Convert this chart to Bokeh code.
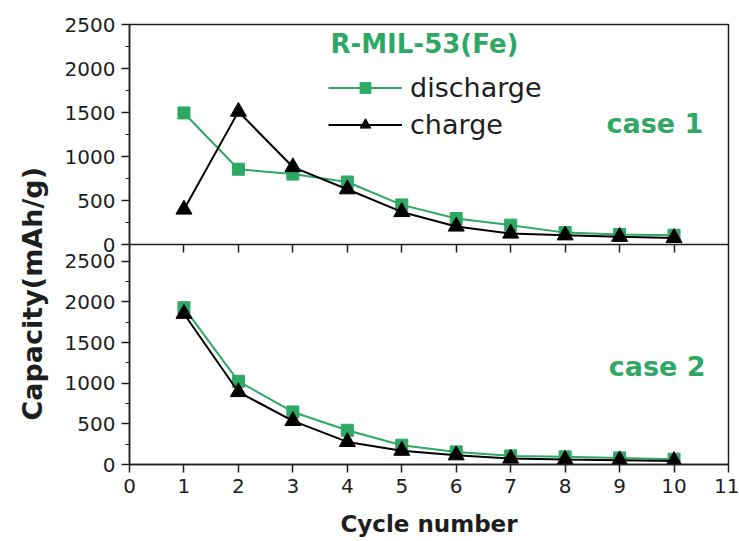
from bokeh.plotting import figure
from bokeh.models import Range1d, LinearAxis, FixedTicker, Label, Legend, LegendItem, Title
from bokeh.embed import file_html
from bokeh.resources import INLINE

# ---- data ----
cycles = [1, 2, 3, 4, 5, 6, 7, 8, 9, 10]
case1_discharge = [1495, 855, 800, 710, 450, 295, 220, 135, 115, 105]
case1_charge = [398, 1510, 880, 628, 370, 205, 125, 105, 88, 75]
case2_discharge = [1928, 1023, 646, 421, 237, 155, 106, 94, 81, 65]
case2_charge = [1854, 892, 536, 278, 170, 114, 74, 61, 53, 44]
x_ticks = [0, 1, 2, 3, 4, 5, 6, 7, 8, 9, 10, 11]
y_ticks = [0, 500, 1000, 1500, 2000, 2500]
y_minor = [250, 750, 1250, 1750, 2250]

GREEN = "#2fa864"
INK = "#1e1e1e"
FONT = "DejaVu Sans"

# lower panel uses the main y range, upper panel an extra range on the same frame
BOT_LO, BOT_HI = 0, 5410
TOP_LO, TOP_HI = -2500, 2500


def top_to_bot(v):
    return BOT_LO + (v - TOP_LO) * (BOT_HI - BOT_LO) / (TOP_HI - TOP_LO)


p = figure(width=739, height=541, output_backend="svg", toolbar_location=None,
           x_range=Range1d(0, 11), y_range=Range1d(BOT_LO, BOT_HI),
           min_border_left=129, min_border_right=11, min_border_top=24,
           min_border_bottom=77)
p.extra_y_ranges = {"top": Range1d(TOP_LO, TOP_HI)}
p.grid.visible = False
p.outline_line_color = INK
p.outline_line_width = 1.5
p.background_fill_color = "white"
p.border_fill_color = "white"


def style_axis(ax):
    ax.axis_line_color = INK
    ax.axis_line_width = 1.5
    ax.major_tick_line_color = INK
    ax.minor_tick_line_color = INK
    ax.major_tick_line_width = 1.5
    ax.minor_tick_line_width = 1.2
    ax.major_tick_in = 0
    ax.major_tick_out = 8
    ax.minor_tick_in = 0
    ax.minor_tick_out = 4
    ax.major_label_text_font = FONT
    ax.major_label_text_font_size = "20px"
    ax.major_label_text_color = INK


# bottom x axis
xa = p.xaxis[0]
xa.ticker = FixedTicker(ticks=x_ticks)
style_axis(xa)
xa.major_label_standoff = 6
xa.axis_label = "Cycle number"
xa.axis_label_text_font = FONT
xa.axis_label_text_font_style = "bold"
xa.axis_label_text_font_size = "23px"
xa.axis_label_text_color = INK
xa.axis_label_standoff = 15

# one left axis carrying the ticks of both panels
top_pos = [int(round(top_to_bot(v))) for v in y_ticks]
top_minor = [top_to_bot(v) for v in y_minor]
ya = p.yaxis[0]
ya.ticker = FixedTicker(ticks=y_ticks + top_pos, minor_ticks=y_minor + top_minor)
ya.major_label_overrides = {pos: str(v) for pos, v in zip(top_pos, y_ticks)}
style_axis(ya)
ya.major_label_standoff = 6

# divider axis between the panels (ticks only)
xa_mid = LinearAxis(y_range_name="top", fixed_location=0,
                    ticker=FixedTicker(ticks=cycles))
style_axis(xa_mid)
xa_mid.major_label_text_font_size = "0px"
xa_mid.major_label_text_alpha = 0
p.add_layout(xa_mid, "below")

# y label spanning both panels
p.add_layout(Title(text="Capacity(mAh/g)", align="left", offset=44, standoff=28,
                   text_font=FONT, text_font_style="bold", text_font_size="27px",
                   text_color=INK), "left")

# ---- series ----
d1_line = p.line(cycles, case1_discharge, y_range_name="top", line_color=GREEN, line_width=2)
d1_pts = p.scatter(cycles, case1_discharge, y_range_name="top", marker="square", size=12,
                   fill_color=GREEN, line_color=GREEN)
c1_line = p.line(cycles, case1_charge, y_range_name="top", line_color="black", line_width=2)
c1_pts = p.scatter(cycles, case1_charge, y_range_name="top", marker="triangle", size=16,
                   fill_color="black", line_color="black")

p.line(cycles, case2_discharge, line_color=GREEN, line_width=2)
p.scatter(cycles, case2_discharge, marker="square", size=12, fill_color=GREEN, line_color=GREEN)
p.line(cycles, case2_charge, line_color="black", line_width=2)
p.scatter(cycles, case2_charge, marker="triangle", size=16, fill_color="black", line_color="black")

legend = Legend(items=[LegendItem(label="discharge", renderers=[d1_line, d1_pts]),
                       LegendItem(label="charge", renderers=[c1_line, c1_pts])],
                location=(199, 324), border_line_color=None, background_fill_alpha=0,
                padding=0, margin=0, spacing=6, glyph_width=74, glyph_height=27,
                label_standoff=8, label_text_font=FONT, label_text_font_size="27px",
                label_text_color=INK)
p.add_layout(legend)

p.add_layout(Label(x=3.69, y=2273, y_range_name="top", text="R-MIL-53(Fe)",
                   text_font=FONT, text_font_style="bold", text_font_size="26px",
                   text_color=GREEN, text_align="left", text_baseline="middle"))
p.add_layout(Label(x=8.76, y=1375, y_range_name="top", text="case 1",
                   text_font=FONT, text_font_style="bold", text_font_size="27px",
                   text_color=GREEN, text_align="left", text_baseline="middle"))
p.add_layout(Label(x=8.8, y=1205, text="case 2",
                   text_font=FONT, text_font_style="bold", text_font_size="27px",
                   text_color=GREEN, text_align="left", text_baseline="middle"))

open("out.html", "w").write(file_html(p, INLINE))
